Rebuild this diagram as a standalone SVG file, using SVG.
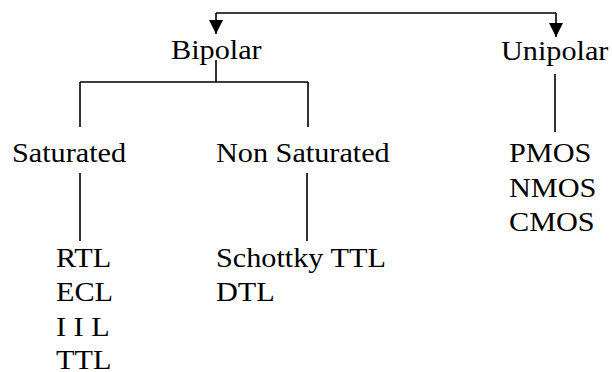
<svg xmlns="http://www.w3.org/2000/svg" width="612" height="372" viewBox="0 0 612 372">
<defs>
<style>
text{font-family:"Liberation Serif","Times New Roman",serif;font-size:28px;fill:#000;transform-box:fill-box;transform-origin:0 0;transform:scale(1.08,1)}
.c{fill:none;stroke:#000;stroke-width:1.6}
</style>
<marker id="ah" viewBox="0 0 14 14" refX="14" refY="7" markerWidth="14" markerHeight="14" markerUnits="userSpaceOnUse" orient="auto"><path d="M0,0L14,7L0,14Z" fill="#000"/></marker>
</defs>
<rect width="612" height="372" fill="#fff"/>
<g id="connectors">
<path class="c" d="M216,13H556"/>
<path class="c" d="M216,13V34" marker-end="url(#ah)"/>
<path class="c" d="M556,13V37" marker-end="url(#ah)"/>
<path class="c" d="M216,60V82M80,82H308M80,82V127M308,82V127"/>
<path class="c" d="M80,173V241M307,173V241"/>
<path class="c" d="M555,74V132"/>
</g>
<g id="bipolar"><text x="171" y="59">Bipolar</text></g>
<g id="unipolar"><text x="501" y="60">Unipolar</text></g>
<g id="saturated"><text x="12" y="162.5">Saturated</text></g>
<g id="nonsaturated"><text x="216" y="162.5">Non Saturated</text></g>
<g id="sat-list"><text x="56" y="267">RTL</text><text x="56" y="301.5">ECL</text><text x="56" y="336">I I L</text><text x="56" y="369">TTL</text></g>
<g id="nonsat-list"><text x="216" y="267">Schottky TTL</text><text x="216" y="301.5">DTL</text></g>
<g id="unipolar-list"><text x="509" y="162.5">PMOS</text><text x="509" y="197">NMOS</text><text x="509" y="231.5">CMOS</text></g>
</svg>
